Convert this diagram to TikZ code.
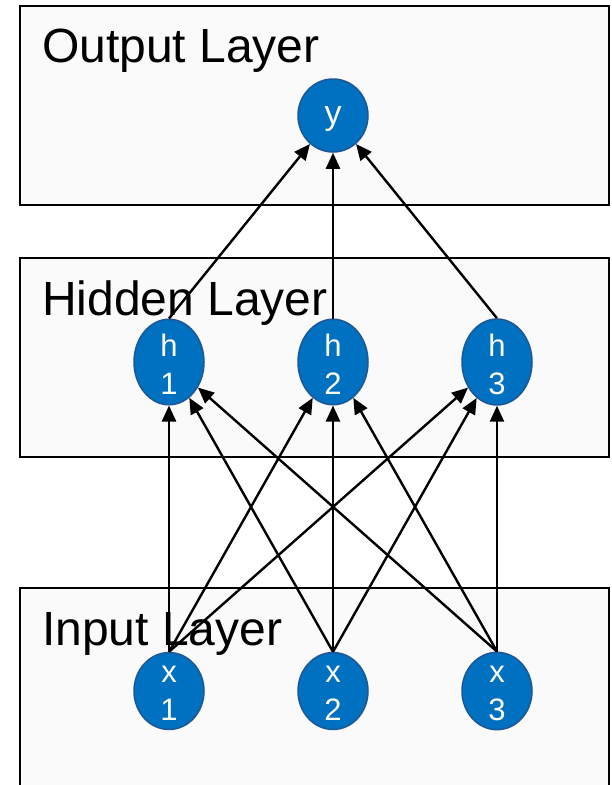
\documentclass[tikz,border=0pt]{standalone}
\usepackage{fontspec}
\setmainfont{Liberation Sans}
\usetikzlibrary{shapes.geometric,arrows.meta}
\definecolor{nodefill}{RGB}{0,112,192}
\definecolor{nodeedge}{RGB}{28,88,150}
\definecolor{panel}{RGB}{250,250,250}
% lower a glyph inside its node without changing the node's size
\newcommand\sinktext[2]{\raisebox{-#1}[\height][\depth]{#2}}
\tikzset{
  layerbox/.style={draw=black, line width=2.2pt, fill=panel},
  layertitle/.style={anchor=base west, inner sep=0pt, font=\fontsize{48}{52}\selectfont},
  neuron/.style={ellipse, draw=nodeedge, line width=1.5pt, fill=nodefill, text=white,
    minimum width=70pt, minimum height=77pt, inner sep=0pt, align=center,
    font=\fontsize{31}{38}\selectfont},
  link/.style={line width=2.4pt, -{Triangle[length=16pt,width=14pt]}}
}
\begin{document}
\begin{tikzpicture}[x=1pt,y=-1pt]
  \useasboundingbox (0,0) rectangle (611,785);
  \clip (0,0) rectangle (611,785);
  \fill[white] (0,0) rectangle (611,785);

  % layer panels
  \draw[layerbox] (20,6) rectangle (609,205);
  \draw[layerbox] (20,258) rectangle (609,457);
  \draw[layerbox] (20,588) rectangle (609,820);

  \node[layertitle] (outtitle) at (42,62) {Output Layer};
  \node[layertitle] (hidtitle) at (42,315) {Hidden Layer};
  \node[layertitle] (intitle)  at (42,645) {Input Layer};

  % neurons
  \node[neuron, minimum height=73pt, font=\fontsize{34}{38}\selectfont] (y) at (333,115.5) {\sinktext{4pt}{y}};

  \node[neuron] (h1) at (169,362) {\sinktext{2pt}{h}\\\sinktext{2pt}{1}};
  \node[neuron] (h2) at (333,362) {\sinktext{2pt}{h}\\\sinktext{2pt}{2}};
  \node[neuron] (h3) at (497,362) {\sinktext{2pt}{h}\\\sinktext{2pt}{3}};

  \node[neuron, minimum height=76pt] (x1) at (169,691) {\sinktext{2pt}{x}\\\sinktext{2pt}{1}};
  \node[neuron, minimum height=76pt] (x2) at (333,691) {\sinktext{2pt}{x}\\\sinktext{2pt}{2}};
  \node[neuron, minimum height=76pt] (x3) at (497,691) {\sinktext{2pt}{x}\\\sinktext{2pt}{3}};

  % input -> hidden
  \foreach \i in {1,2,3}{
    \foreach \j in {1,2,3}{
      \draw[link] (x\i.north) -- (h\j);
    }
  }
  % hidden -> output
  \foreach \j in {1,2,3}{
    \draw[link] (h\j.north) -- (y);
  }
\end{tikzpicture}
\end{document}
